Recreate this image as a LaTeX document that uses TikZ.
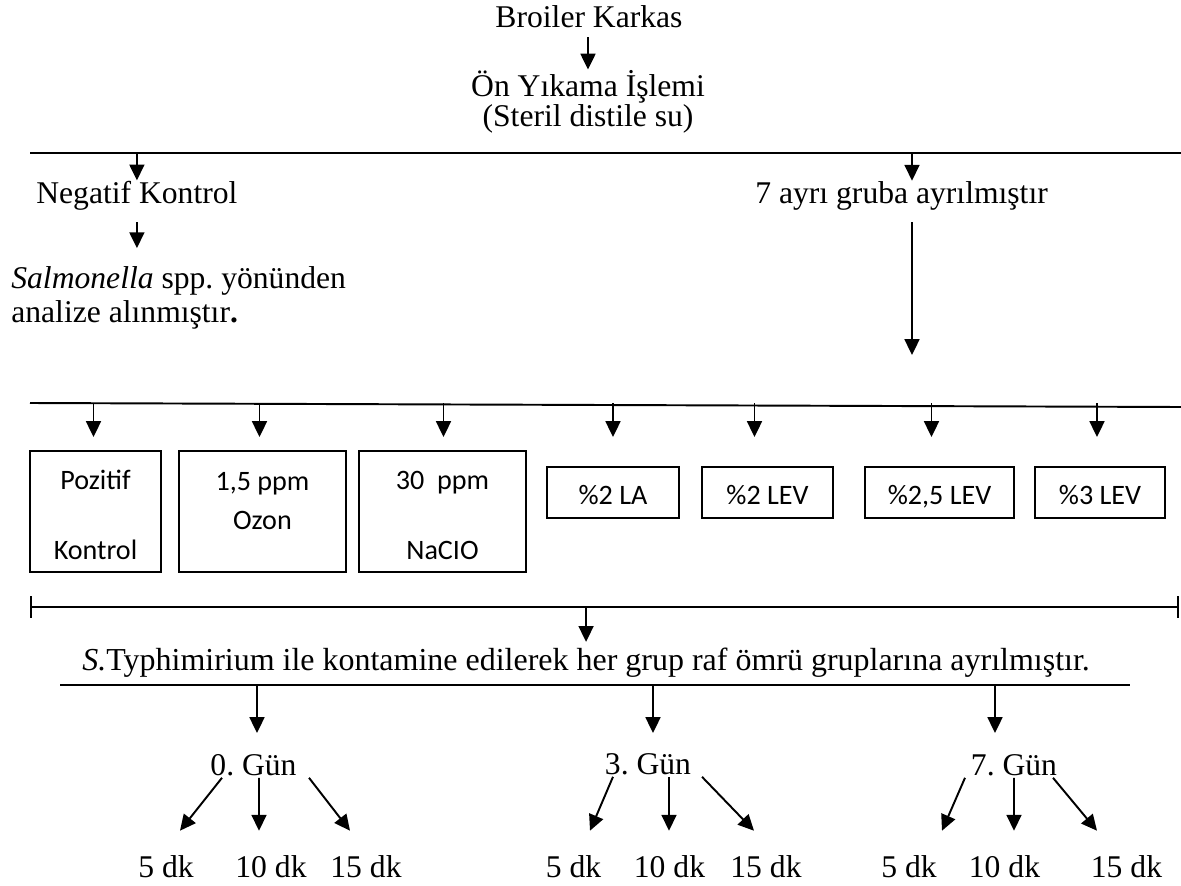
\documentclass[tikz,border=0pt]{standalone}
\usepackage{fontspec}
\setmainfont{Liberation Serif}
\newfontfamily\boxfont{Carlito}
\frenchspacing
\usepackage{tikz}
\usetikzlibrary{
    arrows.meta,
    calc
}
\tikzset
{
  txt/.style={font=\fontsize{18}{21}\selectfont, inner sep=0pt},
  hline/.style={draw=black, line width=1.1pt},
  arr/.style={hline, -{Triangle[length=9pt,width=8.5pt]}},
  bigbox/.style={draw, line width=0.9pt, inner sep=0pt, minimum height=2.42cm, minimum width=#1, align=center, font=\boxfont\fontsize{16}{19}\selectfont},
  smallbox/.style={draw, line width=0.9pt, inner sep=0pt, minimum height=1.02cm, minimum width=#1, text height=14.2pt, text depth=0pt, font=\boxfont\fontsize{16}{19}\selectfont}
}

\begin{document}
\begin{tikzpicture}[x=0.02cm, y=-0.02cm]
        \useasboundingbox (0,0) rectangle (1181,886);

        % Draw carcass and pre-wash
        \node[txt, anchor=base] (broiler) at (589,27) {Broiler Karkas};
        \node[txt, anchor=base] (onyika) at (588,96) {Ön Yıkama İşlemi};
        \node[txt, anchor=base] (steril) at (588,126) {(Steril distile su)};
        \draw[arr, shorten <=5.5pt] (onyika.north |- broiler.south) -- (onyika.north);

        % First split line
        \coordinate (l1a) at (30,153);
        \coordinate (l1b) at (1181,153);
        \draw[hline] (l1a) -- (l1b);

        % Negative control branch
        \node[txt, anchor=base west] (negatif) at (36,203) {Negatif Kontrol};
        \node[txt, anchor=base west] (salm1) at (11,288) {\textit{Salmonella} spp. yönünden};
        \node[txt, anchor=base west] (salm2) at (11,322) {analize alınmıştır\textbf{.}};
        \draw[arr] (negatif.north |- l1a) -- (negatif.north);
        \draw[arr, shorten <=7pt, shorten >=10pt] (negatif.south) -- (negatif.south |- salm1.north);

        % Seven groups branch
        \node[txt, anchor=base west] (yedi) at (755,203) {7 ayrı gruba ayrılmıştır};
        \coordinate (ysplit) at (912,153);
        \coordinate (yend) at (912,355);
        \draw[arr] (ysplit) -- (ysplit |- yedi.north);
        \draw[arr, shorten <=7pt] (ysplit |- yedi.south) -- (yend);

        % Second split line
        \coordinate (l2a) at (30,403);
        \coordinate (l2b) at (1181,407);
        \draw[hline] (l2a) -- (l2b);

        % Treatment boxes
        \node[bigbox=2.62cm] (pk) at (95.5,511.5) {\rule{0pt}{15.3pt}Pozitif\\[20.7pt]Kontrol};
        \node[bigbox=3.34cm] (oz) at (262.5,511.5) {1,5 ppm\\[3.7pt]\rule[-12pt]{0pt}{0pt}Ozon};
        \node[bigbox=3.34cm] (na) at (442.5,511.5) {\rule{0pt}{15.3pt}30\ \ ppm\\[20.7pt]NaCIO};
        \node[smallbox=2.64cm] (la) at (613,492.5) {\%2 LA};
        \node[smallbox=2.62cm] (lev2) at (767.5,492.5) {\%2 LEV};
        \node[smallbox=2.98cm] (lev25) at (939.5,492.5) {\%2,5 LEV};
        \node[smallbox=2.60cm] (lev3) at (1100,492.5) {\%3 LEV};

        \coordinate (btip) at (0,437);
        \foreach \b/\dx in {pk/-2, oz/-3, na/1, la/0, lev2/-13, lev25/-8, lev3/-3}
            \draw[arr] ($(\b.north |- l2a)+(\dx,0)$) -- ($(\b.north |- btip)+(\dx,0)$);

        % Bracket and contamination step
        \coordinate (bra) at (30,607);
        \coordinate (brb) at (1179,607);
        \draw[hline, {Bar[width=12.5pt]}-{Bar[width=12.5pt]}] (bra) -- (brb);
        \node[txt, anchor=base west, font=\fontsize{18.2}{21}\selectfont] (styph) at (82,670) {\textit{S.}Typhimirium ile kontamine edilerek her grup raf ömrü gruplarına ayrılmıştır.};
        \draw[arr, shorten >=3pt] (styph.north |- bra) -- (styph.north);

        % Shelf life line
        \coordinate (ula) at (60,685);
        \coordinate (ulb) at (1130,685);
        \draw[hline] (ula) -- (ulb);

        % Days
        \node[txt, anchor=base] (g0) at (253.5,775) {0. Gün};
        \node[txt, anchor=base] (g3) at (648,774) {3. Gün};
        \node[txt, anchor=base] (g7) at (1014,775) {7. Gün};
        \coordinate (gtip) at (0,733);
        \foreach \g/\dx in {g0/3.5, g3/5, g7/-19}
            \draw[arr] ($(\g.north |- ula)+(\dx,0)$) -- ($(\g.north |- gtip)+(\dx,0)$);

        % Minutes
        \node[txt, anchor=base] (d0a) at (166,877) {5 dk};
        \node[txt, anchor=base] (d0b) at (271,877) {10 dk};
        \node[txt, anchor=base] (d0c) at (366,877) {15 dk};
        \node[txt, anchor=base] (d3a) at (573.5,877) {5 dk};
        \node[txt, anchor=base] (d3b) at (669.5,877) {10 dk};
        \node[txt, anchor=base] (d3c) at (766,877) {15 dk};
        \node[txt, anchor=base] (d7a) at (909,877) {5 dk};
        \node[txt, anchor=base] (d7b) at (1004.5,877) {10 dk};
        \node[txt, anchor=base] (d7c) at (1126.5,877) {15 dk};

        \foreach \g/\d/\sx/\ex in {g0/d0a/-31.5/14, g0/d0b/5.5/-12, g0/d0c/55.5/-16,
                                  g3/d3a/-35/16.5, g3/d3b/21/-0.5, g3/d3c/54/-12,
                                  g7/d7a/-49/33, g7/d7b/0/9.5, g7/d7c/39/-29.5}
            \draw[arr] ($(\g.south)+(\sx,2)$) -- ($(\d.north)+(\ex,-24)$);
\end{tikzpicture}
\end{document}
